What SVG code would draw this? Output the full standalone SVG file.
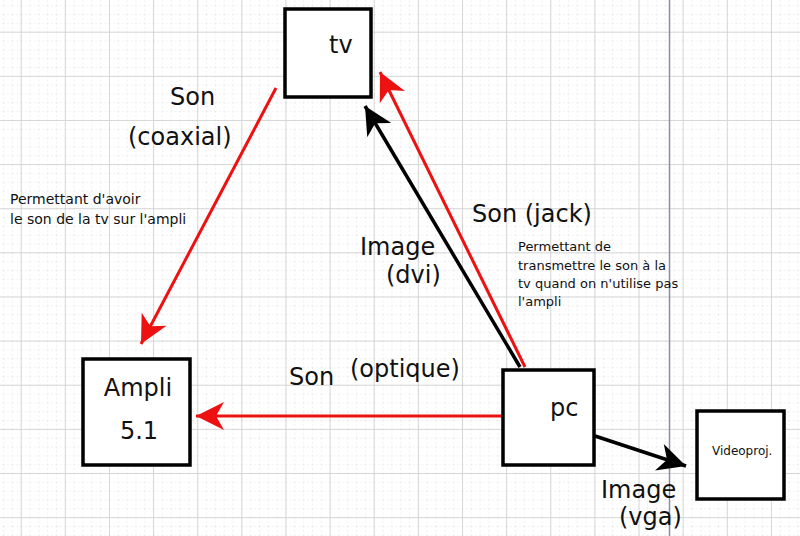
<svg xmlns="http://www.w3.org/2000/svg" width="800" height="536" viewBox="0 0 800 536">
<defs>
<pattern id="minor" x="20.7" y="31.7" width="8.826" height="8.826" patternUnits="userSpaceOnUse">
<path d="M0,0 V8.826 M0,0 H8.826" stroke="#e3e3e3" stroke-width="1" stroke-dasharray="2,2" fill="none"/>
</pattern>
<pattern id="major" x="20.7" y="31.7" width="44.13" height="44.13" patternUnits="userSpaceOnUse">
<path d="M0.5,0 V44.13 M0,0.5 H44.13" stroke="#d6d6d6" stroke-width="1" fill="none"/>
</pattern>
<marker id="arrRed" viewBox="-30 -15 32 30" refX="0" refY="0" markerWidth="32" markerHeight="30" markerUnits="userSpaceOnUse" orient="auto">
<path d="M0,0 L-28,-14 L-20,0 L-28,14 Z" fill="#ee1111"/>
</marker>
<marker id="arrBlack" viewBox="-30 -15 32 30" refX="0" refY="0" markerWidth="32" markerHeight="30" markerUnits="userSpaceOnUse" orient="auto">
<path d="M0,0 L-28,-14 L-20,0 L-28,14 Z" fill="#000000"/>
</marker>
</defs>
<style>
.box{fill:#ffffff;stroke:#000000;stroke-width:3.5}
.big{font-family:"DejaVu Sans",Verdana,sans-serif;font-size:24px;fill:#111111}
.small{font-family:"DejaVu Sans",Verdana,sans-serif;font-size:13px;fill:#111111}
.red{stroke:#ee1111;stroke-width:3;fill:none;marker-end:url(#arrRed)}
.black{stroke:#000000;stroke-width:3.5;fill:none;marker-end:url(#arrBlack)}
</style>
<rect width="800" height="536" fill="#ffffff"/>
<rect width="800" height="536" fill="url(#minor)"/>
<rect width="800" height="536" fill="url(#major)"/>
<line x1="669.5" y1="0" x2="669.5" y2="536" stroke="#8c8aa8" stroke-width="1.5"/>

<g id="connectors">
<line class="red" x1="276" y1="88" x2="141" y2="344"/>
<line class="red" x1="503" y1="416" x2="196" y2="416"/>
<line class="red" x1="525" y1="367" x2="380" y2="72"/>
<line class="black" x1="520" y1="367" x2="365" y2="106"/>
<line class="black" x1="595" y1="436" x2="686" y2="466"/>
</g>

<g id="tv">
<rect class="box" x="285" y="9" width="86" height="88"/>
<text class="big" x="329" y="53">tv</text>
</g>
<g id="ampli">
<rect class="box" x="83" y="359" width="107" height="106"/>
<text class="big" x="138" y="396" text-anchor="middle">Ampli</text>
<text class="big" x="139" y="439" text-anchor="middle">5.1</text>
</g>
<g id="pc">
<rect class="box" x="503" y="370" width="91" height="95"/>
<text class="big" x="550" y="416">pc</text>
</g>
<g id="videoproj">
<rect class="box" x="697" y="411" width="87" height="88"/>
<text class="small" x="712" y="455" style="font-size:12px">Videoproj.</text>
</g>

<g id="labels">
<text class="big" x="170" y="105">Son</text>
<text class="big" x="128" y="145">(coaxial)</text>
<text class="small" x="10" y="204" style="font-size:14px">Permettant d'avoir</text>
<text class="small" x="10" y="224" style="font-size:14px">le son de la tv sur l'ampli</text>
<text class="big" x="472" y="222">Son (jack)</text>
<text class="small" x="518" y="251">Permettant de</text>
<text class="small" x="518" y="270">transmettre le son à la</text>
<text class="small" x="518" y="288">tv quand on n'utilise pas</text>
<text class="small" x="518" y="306">l'ampli</text>
<text class="big" x="360" y="255">Image</text>
<text class="big" x="386" y="283">(dvi)</text>
<text class="big" x="289" y="385">Son</text>
<text class="big" x="350" y="377">(optique)</text>
<text class="big" x="601" y="498">Image</text>
<text class="big" x="619" y="525">(vga)</text>
</g>
</svg>
